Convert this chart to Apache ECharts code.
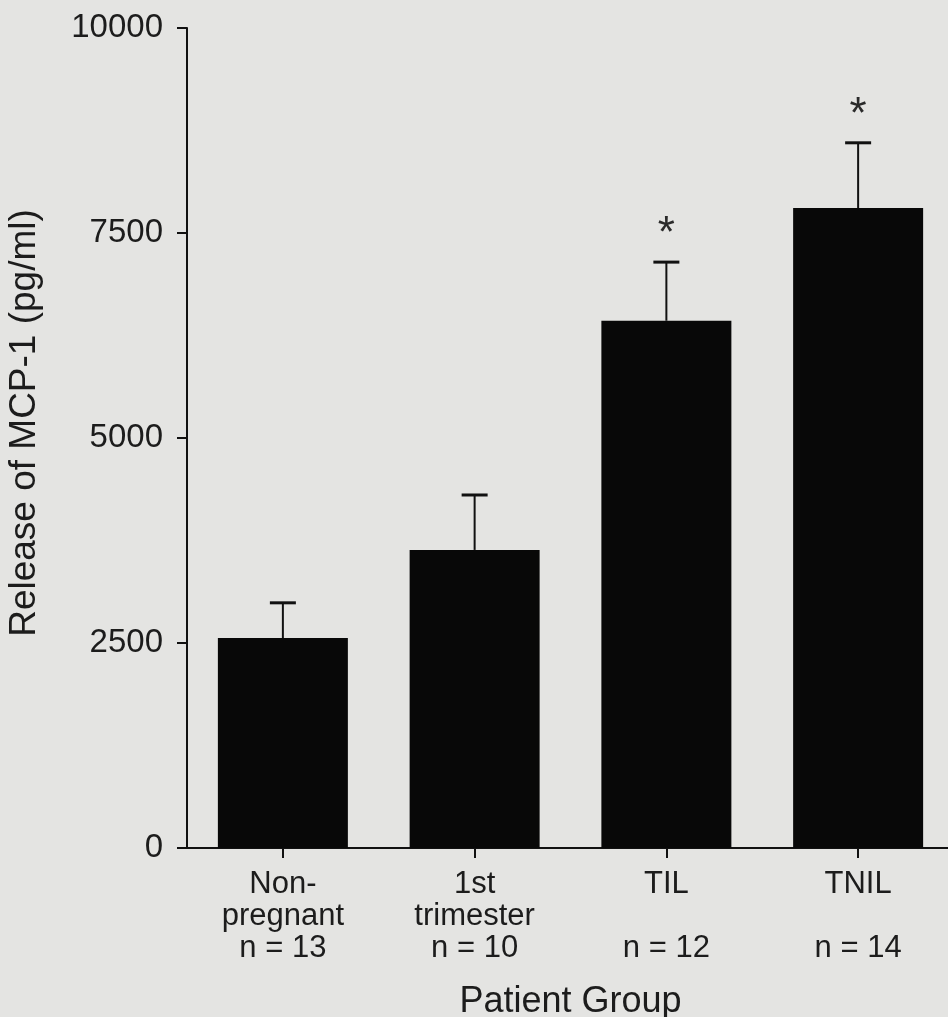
<!DOCTYPE html>
<html>
<head>
<meta charset="utf-8">
<script src="https://cdn.jsdelivr.net/npm/echarts@6/dist/echarts.min.js"></script>
<style>
  html, body { margin: 0; padding: 0; background: #e4e4e2; }
  #chart { width: 948px; height: 1017px; }
</style>
</head>
<body>
<div id="chart"></div>
<script>
// ---- data ----
const groupLine1 = ['Non-', '1st', 'TIL', 'TNIL'];
const groupLine2 = ['pregnant', 'trimester', '', ''];
const groupN = ['n = 13', 'n = 10', 'n = 12', 'n = 14'];
const meanValues = [2560, 3635, 6430, 7805];
const errorUpper = [2990, 4305, 7145, 8600];
const significance = ['', '', '*', '*'];
const yTicks = [0, 2500, 5000, 7500, 10000];
const yAxisTitle = 'Release of MCP-1 (pg/ml)';
const xAxisTitle = 'Patient Group';

const categories = groupLine1.map((l1, i) => l1 + '\n' + groupLine2[i] + '\n' + groupN[i]);
const FONT = 'Liberation Sans, Arial, Helvetica, sans-serif';
const TXT = '#1c1c1c';

const chart = echarts.init(document.getElementById('chart'), null, { renderer: 'canvas' });

const errData = meanValues.map((m, i) => [i, errorUpper[i], m, significance[i]]);

chart.setOption({
  backgroundColor: '#e4e4e2',
  animation: false,
  grid: { left: 187, top: 28, width: 767, bottom: 169, containLabel: false, outerBoundsMode: 'none' },
  xAxis: {
    type: 'category',
    data: categories,
    boundaryGap: true,
    axisLine: { show: true, lineStyle: { color: '#111', width: 2 } },
    axisTick: { show: true, alignWithLabel: true, length: 10, lineStyle: { color: '#111', width: 2 } },
    axisLabel: {
      interval: 0, margin: 20, color: TXT, fontFamily: FONT, fontSize: 31, lineHeight: 32, align: 'center'
    },
    name: xAxisTitle,
    nameLocation: 'middle',
    nameGap: 136,
    nameTextStyle: { color: TXT, fontFamily: FONT, fontSize: 36 },
    splitLine: { show: false }
  },
  yAxis: {
    type: 'value',
    min: yTicks[0],
    max: yTicks[yTicks.length - 1],
    interval: yTicks[1] - yTicks[0],
    axisLine: { show: true, lineStyle: { color: '#111', width: 2 } },
    axisTick: { show: true, length: 10, lineStyle: { color: '#111', width: 2 } },
    axisLabel: { margin: 24, color: TXT, fontFamily: FONT, fontSize: 33, formatter: v => String(v) },
    splitLine: { show: false },
    name: yAxisTitle,
    nameLocation: 'middle',
    nameRotate: 90,
    nameGap: 144,
    nameTextStyle: { color: TXT, fontFamily: FONT, fontSize: 37, padding: [0, 0, 0, 30] }
  },
  series: [
    {
      type: 'bar',
      data: meanValues,
      barWidth: 130,
      itemStyle: { color: '#080808' },
      z: 2
    },
    {
      type: 'custom',
      data: errData,
      z: 3,
      renderItem: function (params, api) {
        const idx = api.value(0);
        const top = api.coord([idx, api.value(1)]);
        const base = api.coord([idx, api.value(2)]);
        const star = errData[params.dataIndex][3];
        const half = 13;
        const children = [
          { type: 'line', shape: { x1: top[0], y1: base[1], x2: top[0], y2: top[1] },
            style: { stroke: '#111', lineWidth: 2 } },
          { type: 'line', shape: { x1: top[0] - half, y1: top[1], x2: top[0] + half, y2: top[1] },
            style: { stroke: '#111', lineWidth: 3 } }
        ];
        if (star) {
          children.push({
            type: 'text',
            style: { text: star, x: top[0], y: top[1] - 27, align: 'center', verticalAlign: 'middle',
                     font: '44px ' + FONT, fill: '#2a2a2a' }
          });
        }
        return { type: 'group', children: children };
      }
    }
  ]
});
</script>
</body>
</html>
